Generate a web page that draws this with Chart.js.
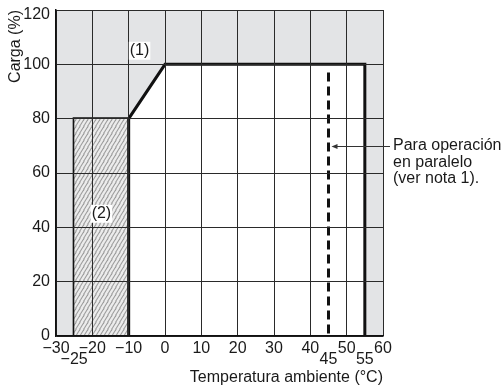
<!DOCTYPE html>
<html><head><meta charset="utf-8">
<script src="https://cdn.jsdelivr.net/npm/chart.js@4/dist/chart.umd.min.js"></script>
<style>html,body{margin:0;padding:0;background:#fff}#wrap{width:501px;height:387px}</style>
</head><body><div id="wrap"><canvas id="c" width="501" height="387"></canvas></div>
<script>
// Data
const xTicks = [-30,-20,-10,0,10,20,30,40,50,60];
const yTicks = [0,20,40,60,80,100,120];
const extraXTicks = [-25,45,55];
const operatingTemp = [-25,-25,-10,0,55,55];
const operatingLoad = [0,80,80,100,100,0];
const hatchTemp = [-25,-10];
const hatchLoad = [80,80];
const innerEdgeTemp = [-10,-10];
const innerEdgeLoad = [80,0];
const parallelTemp = [45,45];
const parallelLoad = [97,0];
const noteLabels = [{x:-7, y:105, text:'(1)'},{x:-17.5, y:45, text:'(2)'}];
const sideNote = ['Para operación','en paralelo','(ver nota 1).'];
const sideNoteLoad = 70;

const FONT = '"Liberation Sans", Arial, Helvetica, sans-serif';
const FS = 16;
const toPts = (xs, ys) => xs.map((x,i)=>({x, y: ys[i]}));
const fmt = v => v < 0 ? '\u2212' + Math.abs(v) : String(v);
const yMax = yTicks[yTicks.length-1];

function makeHatch(){
  const c = document.createElement('canvas');
  c.width = 4; c.height = 7;
  const g = c.getContext('2d');
  g.fillStyle = '#ececec'; g.fillRect(0,0,4,7);
  g.strokeStyle = '#9c9c9c'; g.lineWidth = 1.1;
  for (let k=-1;k<=1;k++){
    g.beginPath(); g.moveTo(k*4-0.5,7.5); g.lineTo(k*4+4.5,-0.5); g.stroke();
  }
  return document.getElementById('c').getContext('2d').createPattern(c,'repeat');
}

const bgPlugin = {
  id:'bg',
  beforeDatasetsDraw(chart){
    const {ctx, chartArea:a} = chart;
    ctx.save(); ctx.fillStyle = '#e3e4e6';
    ctx.fillRect(a.left, a.top, a.right-a.left, a.bottom-a.top);
    ctx.restore();
  }
};

const annPlugin = {
  id:'ann',
  afterDraw(chart){
    const {ctx} = chart;
    const xs = chart.scales.x, ys = chart.scales.y;
    ctx.save();
    ctx.font = FS + 'px ' + FONT;
    ctx.fillStyle = '#1a1a1a';
    ctx.textAlign = 'center'; ctx.textBaseline = 'middle';
    extraXTicks.forEach(v=>{
      ctx.fillText(fmt(v), xs.getPixelForValue(v), ys.getPixelForValue(0)+24);
    });
    noteLabels.forEach(n=>{
      const px = xs.getPixelForValue(n.x), py = ys.getPixelForValue(n.y);
      const w = ctx.measureText(n.text).width;
      ctx.fillStyle = '#fff';
      ctx.fillRect(px-w/2-1, py-9, w+2, 18);
      ctx.fillStyle = '#1a1a1a';
      ctx.fillText(n.text, px, py);
    });
    const ay = Math.round(ys.getPixelForValue(sideNoteLoad));
    const ax = xs.getPixelForValue(45) + 3;
    const tx = xs.right + 10;
    ctx.strokeStyle = '#333'; ctx.lineWidth = 1;
    ctx.beginPath(); ctx.moveTo(tx-3, ay+0.5); ctx.lineTo(ax+2, ay+0.5); ctx.stroke();
    ctx.fillStyle = '#333';
    ctx.beginPath(); ctx.moveTo(ax, ay+0.5); ctx.lineTo(ax+6, ay-2); ctx.lineTo(ax+6, ay+3); ctx.closePath(); ctx.fill();
    ctx.fillStyle = '#1a1a1a';
    ctx.textAlign = 'left';
    sideNote.forEach((t,i)=> ctx.fillText(t, tx, ay + i*16.5));
    ctx.restore();
  }
};

const hatch = makeHatch();

new Chart(document.getElementById('c'), {
  type:'line',
  data:{ datasets:[
    {data: toPts(operatingTemp, operatingLoad), fill:'origin', backgroundColor:'#ffffff', borderColor:'#111', borderWidth:3, pointRadius:0, tension:0, borderJoinStyle:'miter', order:3},
    {data: toPts(hatchTemp, hatchLoad), fill:'origin', backgroundColor: hatch, borderWidth:0, borderColor:'rgba(0,0,0,0)', pointRadius:0, order:2},
    {data: toPts(innerEdgeTemp, innerEdgeLoad), fill:false, borderColor:'#111', borderWidth:3, pointRadius:0, order:1},
    {data: toPts(parallelTemp, parallelLoad), fill:false, borderColor:'#111', borderWidth:3, borderDash:[9,5], pointRadius:0, order:0}
  ]},
  options:{
    responsive:false, animation:false, devicePixelRatio:1,
    layout:{padding:{top:10,right:118,left:0,bottom:0}},
    plugins:{legend:{display:false}, tooltip:{enabled:false}},
    scales:{
      x:{type:'linear', min:-30, max:60,
        afterBuildTicks: s => { s.ticks = xTicks.map(v=>({value:v})); },
        afterFit: s => { s.height = 51; s.paddingLeft = 0; s.paddingRight = 0; },
        grid:{color:'#2a2a2a', lineWidth:1, drawTicks:false, z:1},
        border:{color:'#111', width:1.5, z:2},
        ticks:{padding:3, color:'#1a1a1a', font:{family:FONT, size:FS}, callback: v => fmt(v), maxRotation:0, autoSkip:false},
        title:{display:true, align:'end', text:'Temperatura ambiente (°C)', color:'#1a1a1a', font:{family:FONT, size:FS}, padding:{top:0,bottom:0}}
      },
      y:{type:'linear', min:0, max:yMax,
        afterBuildTicks: s => { s.ticks = yTicks.map(v=>({value:v})); },
        afterFit: s => { s.width = 56; s.paddingTop = 0; s.paddingBottom = 0; },
        grid:{color:'#2a2a2a', lineWidth:1, drawTicks:false, z:1},
        border:{color:'#111', width:1.5, z:2},
        ticks:{padding:6, color:'#1a1a1a',
          font: c => (c.tick && c.tick.value === yMax) ? {family:FONT, size:FS, lineHeight:'10px'} : {family:FONT, size:FS},
          callback: v => v === yMax ? ['', String(v)] : String(v)},
        title:{display:true, align:'end', text:'Carga (%)', color:'#1a1a1a', font:{family:FONT, size:FS}, padding:{top:6,bottom:0}}
      }
    }
  },
  plugins:[bgPlugin, annPlugin]
});
</script></body></html>
